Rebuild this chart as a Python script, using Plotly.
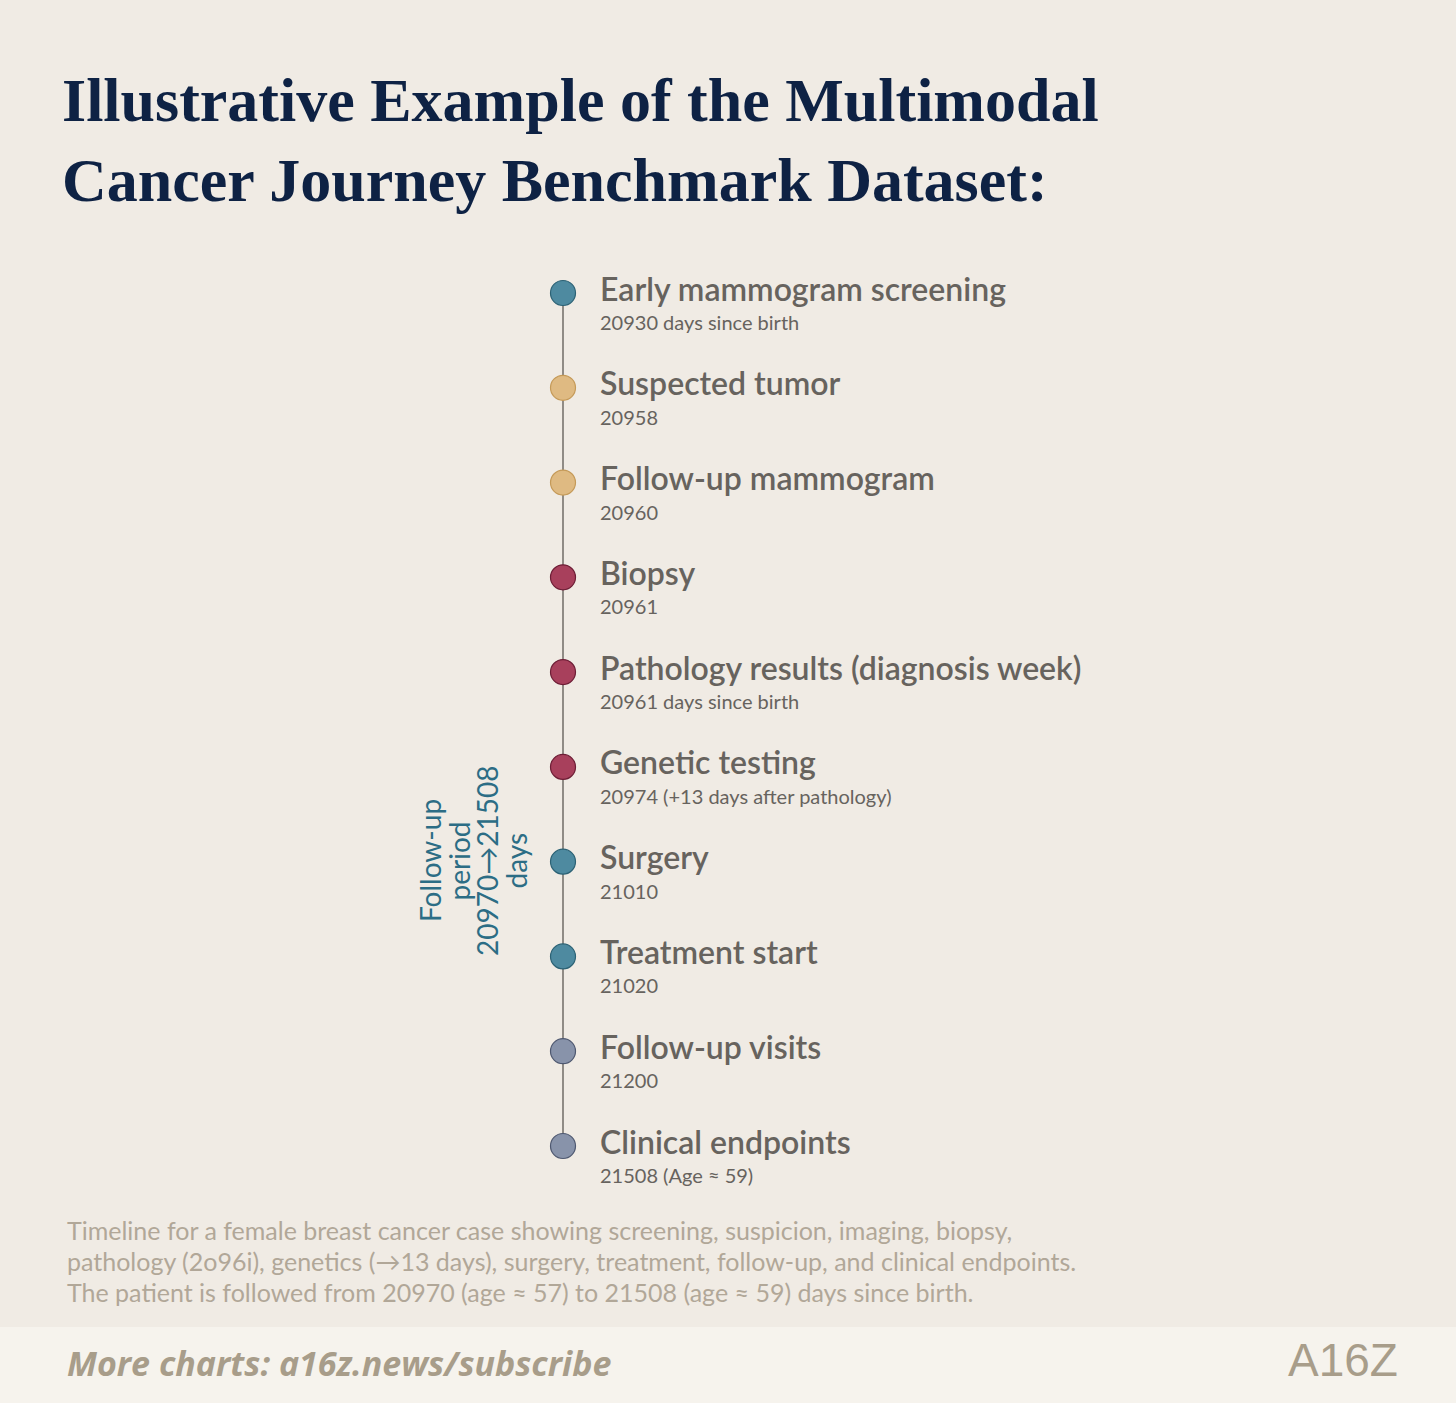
import plotly.graph_objects as go

W, H = 1456, 1403

events = [
    "Early mammogram screening",
    "Suspected tumor",
    "Follow-up mammogram",
    "Biopsy",
    "Pathology results (diagnosis week)",
    "Genetic testing",
    "Surgery",
    "Treatment start",
    "Follow-up visits",
    "Clinical endpoints",
]
details = [
    "20930 days since birth",
    "20958",
    "20960",
    "20961",
    "20961 days since birth",
    "20974 (+13 days after pathology)",
    "21010",
    "21020",
    "21200",
    "21508 (Age ≈ 59)",
]
phases = ["screen", "suspect", "suspect", "diag", "diag", "diag", "treat", "treat", "follow", "follow"]
period_lines = ["Follow-up", "period", "20970→21508", "days"]

fill_colors = {"screen": "#4e8aa0", "suspect": "#dfba82", "diag": "#a8405c",
               "treat": "#4e8aa0", "follow": "#8893aa"}
edge_colors = {"screen": "#2c6275", "suspect": "#c59a58", "diag": "#6e1e36",
               "treat": "#2c6275", "follow": "#4e5870"}

steps = list(range(len(events)))

BG = "#f0ebe4"
TEXT = "#67635e"
NAVY = "#0e2244"
TEAL = "#2c6d85"
MUTED = "#b1a798"

# pixel layout helpers
X_LINE = 563
Y_FIRST, Y_LAST = 293, 1146
step_px = (Y_LAST - Y_FIRST) / (len(events) - 1)
y_top = -Y_FIRST / step_px
y_bot = (H - Y_FIRST) / step_px


def py(px):
    return 1 - px / H


fig = go.Figure()

fig.add_trace(go.Scatter(
    x=[X_LINE] * len(steps), y=steps, mode="lines",
    line=dict(color="#5c5852", width=1.3), hoverinfo="skip", showlegend=False,
))
fig.add_trace(go.Scatter(
    x=[X_LINE] * len(steps), y=steps, mode="markers",
    marker=dict(size=25, color=[fill_colors[p] for p in phases],
                line=dict(color=[edge_colors[p] for p in phases], width=1.2)),
    text=events, hoverinfo="text", showlegend=False,
))

for i, (name, det) in enumerate(zip(events, details)):
    fig.add_annotation(x=598, y=i, xref="x", yref="y", text=name, showarrow=False,
                       xanchor="left", yanchor="middle", yshift=5,
                       font=dict(family="Lato", size=32, color=TEXT, weight=600))
    fig.add_annotation(x=598, y=i, xref="x", yref="y", text=det, showarrow=False,
                       xanchor="left", yanchor="middle", yshift=-29,
                       font=dict(family="Lato", size=20, color=TEXT))

# follow-up period label, one rotated line at a time
for k, line in enumerate(period_lines):
    fig.add_annotation(x=430 + 28.5 * k, y=py(861), xref="x", yref="paper",
                       text=line, showarrow=False, textangle=-90,
                       xanchor="center", yanchor="middle",
                       font=dict(family="Lato", size=28, color=TEAL))

# title
for txt, yc in [("Illustrative Example of the Multimodal", 100),
                ("Cancer Journey Benchmark Dataset:", 180)]:
    fig.add_annotation(x=60, y=py(yc), xref="x", yref="paper", text=txt,
                       showarrow=False, xanchor="left", yanchor="middle",
                       font=dict(family="Liberation Serif", size=62, color=NAVY, weight="bold"))

caption = [
    "Timeline for a female breast cancer case showing screening, suspicion, imaging, biopsy,",
    "pathology (2o96i), genetics (→13 days), surgery, treatment, follow-up, and clinical endpoints.",
    "The patient is followed from 20970 (age ≈ 57) to 21508 (age ≈ 59) days since birth.",
]
for k, line in enumerate(caption):
    fig.add_annotation(x=65, y=py(1230 + 31 * k), xref="x", yref="paper", text=line,
                       showarrow=False, xanchor="left", yanchor="middle",
                       font=dict(family="Lato", size=25, color=MUTED))

# footer band
fig.add_shape(type="rect", xref="paper", yref="paper", x0=0, x1=1, y0=0, y1=py(1327),
              fillcolor="#f6f3ed", line_width=0, layer="below")
fig.add_annotation(x=65, y=py(1363), xref="x", yref="paper",
                   text="<b><i>More charts: a16z.news/subscribe</i></b>",
                   showarrow=False, xanchor="left", yanchor="middle",
                   font=dict(family="Open Sans", size=34, color="#a89d8a"))
fig.add_annotation(x=1400, y=py(1360), xref="x", yref="paper", text="A16Z",
                   showarrow=False, xanchor="right", yanchor="middle",
                   font=dict(family="Liberation Sans Narrow, Liberation Sans", size=46, color="#a89d8a"))

fig.update_layout(
    width=W, height=H,
    margin=dict(l=0, r=0, t=0, b=0),
    paper_bgcolor=BG, plot_bgcolor="rgba(0,0,0,0)",
    xaxis=dict(range=[0, W], visible=False, fixedrange=True),
    yaxis=dict(range=[y_bot, y_top], visible=False, fixedrange=True),
    showlegend=False,
)

fig.write_html("out.html", config={"displayModeBar": False},
               post_script="document.body.style.margin='0';")
